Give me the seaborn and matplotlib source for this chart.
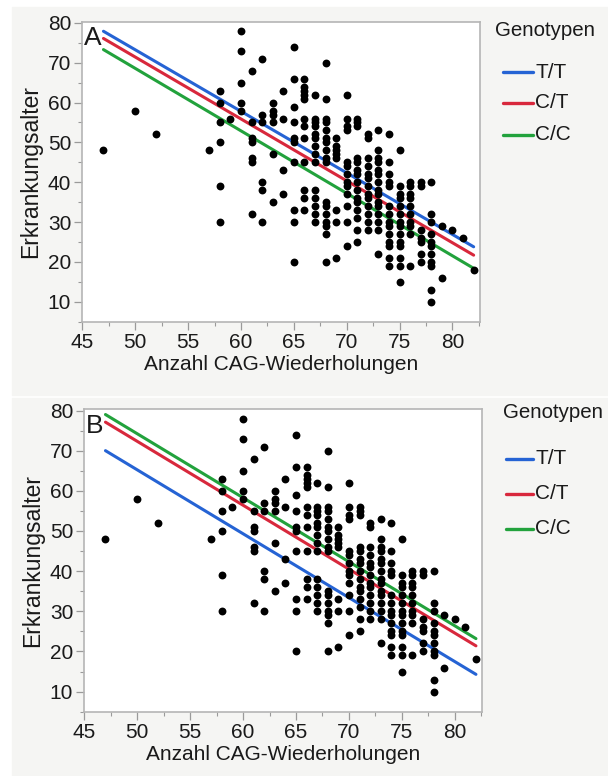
import numpy as np
import pandas as pd
import matplotlib
matplotlib.use("Agg")
import matplotlib.pyplot as plt
from matplotlib.patches import Rectangle
from matplotlib.lines import Line2D
from matplotlib.ticker import MultipleLocator
import seaborn as sns

sns.set_theme(style="white")
plt.rcParams['font.family'] = ['Liberation Sans', 'DejaVu Sans']

# ---- data: CAG repeats (x) and age of onset (y), column by column ----
cag_47 = [48]
cag_50 = [58]
cag_52 = [52]
cag_57 = [48]
cag_58 = [63, 60, 55, 50, 39, 30]
cag_59 = [56]
cag_60 = [78, 73, 65, 60, 58]
cag_61 = [68, 55, 51, 50, 46, 45, 32]
cag_62 = [71, 57, 55, 40, 38, 30]
cag_63 = [60, 58, 57, 55, 47, 35]
cag_64 = [63, 56, 43, 37]
cag_65 = [74, 66, 59, 55, 51, 50, 45, 33, 30, 20]
cag_66 = [66, 64, 63, 62, 61, 56, 54, 51, 45, 38, 36, 33]
cag_67 = [62, 56, 55, 54, 52, 51, 49, 47, 45, 38, 36, 34, 32, 30]
cag_68 = [70, 61, 56, 55, 53, 51, 50, 48, 46, 45, 35, 34, 32, 30, 29, 27, 20]
cag_69 = [51, 49, 48, 47, 46, 33, 30, 21]
cag_70 = [62, 56, 54, 53, 45, 44, 42, 40, 39, 37, 34, 30, 24]
cag_71 = [56, 55, 54, 46, 45, 43, 42, 40, 38, 36, 35, 33, 31, 28, 25]
cag_72 = [52, 51, 46, 44, 42, 41, 39, 37, 36, 34, 32, 30, 28]
cag_73 = [53, 48, 46, 45, 43, 42, 40, 38, 37, 35, 34, 32, 30, 28, 22]
cag_74 = [52, 45, 42, 40, 39, 34, 32, 30, 29, 27, 25, 24, 21, 19]
cag_75 = [48, 39, 37, 36, 34, 32, 30, 29, 27, 25, 24, 21, 19, 15]
cag_76 = [40, 39, 37, 36, 34, 32, 30, 29, 27, 19]
cag_77 = [40, 39, 28, 26, 25, 22, 20]
cag_78 = [40, 32, 30, 27, 25, 24, 22, 20, 19, 13, 10]
cag_79 = [29, 16]
cag_80 = [28]
cag_81 = [26]
cag_82 = [18]

columns = {47: cag_47, 50: cag_50, 52: cag_52, 57: cag_57, 58: cag_58,
           59: cag_59, 60: cag_60, 61: cag_61, 62: cag_62, 63: cag_63,
           64: cag_64, 65: cag_65, 66: cag_66, 67: cag_67, 68: cag_68,
           69: cag_69, 70: cag_70, 71: cag_71, 72: cag_72, 73: cag_73,
           74: cag_74, 75: cag_75, 76: cag_76, 77: cag_77, 78: cag_78,
           79: cag_79, 80: cag_80, 81: cag_81, 82: cag_82}
pts = pd.DataFrame([(x, y) for x, ys in columns.items() for y in ys],
                   columns=["CAG", "Alter"])

genotypes = ["T/T", "C/T", "C/C"]
fit_x = [47, 82]
# fitted line values at x=47 and x=82, panel A and panel B
fit_A = {"T/T": [77.9, 23.8], "C/T": [76.1, 21.7], "C/C": [73.3, 18.4]}
fit_B = {"T/T": [70.0, 14.3], "C/T": [77.1, 21.4], "C/C": [79.0, 23.2]}
colors = {"T/T": "#2563d4", "C/T": "#d8283c", "C/C": "#22a23c"}

xticks = [45, 50, 55, 60, 65, 70, 75, 80]
yticks = [10, 20, 30, 40, 50, 60, 70, 80]
legend_title = "Genotypen"

W, H = 608, 776
fig = plt.figure(figsize=(W / 100, H / 100), dpi=100, facecolor="white")
TXT = "#1a1a1a"

# panel backgrounds
panel_col = "#f5f5f3"
fig.patches.append(Rectangle((12 / W, 1 - 395 / H), 1 - 12 / W, 388 / H,
                             transform=fig.transFigure, color=panel_col, zorder=-10))
fig.patches.append(Rectangle((12 / W, 0), 1 - 12 / W, 1 - 398 / H,
                             transform=fig.transFigure, color=panel_col, zorder=-10))

def px_axes(l, t, r, b):
    return fig.add_axes([l / W, 1 - b / H, (r - l) / W, (b - t) / H])

def fx(px):
    return px / W

def fy(py):
    return 1 - py / H

axA = px_axes(82.3, 21.7, 480, 321.7)
axB = px_axes(84.3, 409.3, 482.3, 711.7)

panels = [
    (axA, fit_A, "A", dict(tx=495, ty=30, lx0=503, lx1=533, rows=[72, 103, 135])),
    (axB, fit_B, "B", dict(tx=503, ty=413, lx0=506, lx1=533, rows=[459, 494, 529])),
]

for ax, fits, letter, lg in panels:
    ax.set_facecolor("white")
    rows = []
    for g in genotypes:
        for xv, yv in zip(fit_x, fits[g]):
            rows.append((g, xv, yv))
    ldf = pd.DataFrame(rows, columns=["Genotypen", "CAG", "Alter"])
    sns.lineplot(data=ldf, x="CAG", y="Alter", hue="Genotypen",
                 hue_order=genotypes, palette=colors, linewidth=2.2,
                 ax=ax, zorder=2, legend=False)
    sns.scatterplot(data=pts, x="CAG", y="Alter", color="black", s=32,
                    linewidth=0, ax=ax, zorder=3, legend=False)
    ax.set_xlim(45, 82.6)
    ax.set_ylim(5, 80.3)
    ax.set_xticks(xticks)
    ax.set_yticks(yticks)
    ax.xaxis.set_minor_locator(MultipleLocator(2.5))
    ax.yaxis.set_minor_locator(MultipleLocator(5))
    ax.tick_params(axis="both", which="major", length=6, width=0.9,
                   color="#9a9a9a", labelsize=15, labelcolor=TXT,
                   direction="out", left=True, bottom=True, pad=2)
    ax.tick_params(axis="both", which="minor", length=3, width=0.8,
                   color="#9a9a9a", direction="out", left=True, bottom=True)
    for sp in ax.spines.values():
        sp.set_color("#b5b5b5")
        sp.set_linewidth(1.2)
    ax.set_xlabel("Anzahl CAG-Wiederholungen", fontsize=15, color=TXT, labelpad=2)
    ax.set_ylabel("Erkrankungsalter", fontsize=16.5, color=TXT, labelpad=4)
    ax.text(0.005, 0.985, letter, transform=ax.transAxes, fontsize=19,
            va="top", ha="left", color=TXT, zorder=5)

    # legend
    fig.text(fx(lg["tx"]), fy(lg["ty"]), legend_title, fontsize=14.8,
             color=TXT, ha="left", va="center")
    for g, ry in zip(genotypes, lg["rows"]):
        fig.add_artist(Line2D([fx(lg["lx0"]), fx(lg["lx1"])], [fy(ry), fy(ry)],
                              transform=fig.transFigure, color=colors[g],
                              linewidth=2.4))
        fig.text(fx(lg["lx1"] + 2), fy(ry), g, fontsize=15, color=TXT,
                 ha="left", va="center")

fig.savefig("out.png", dpi=100, facecolor="white")
